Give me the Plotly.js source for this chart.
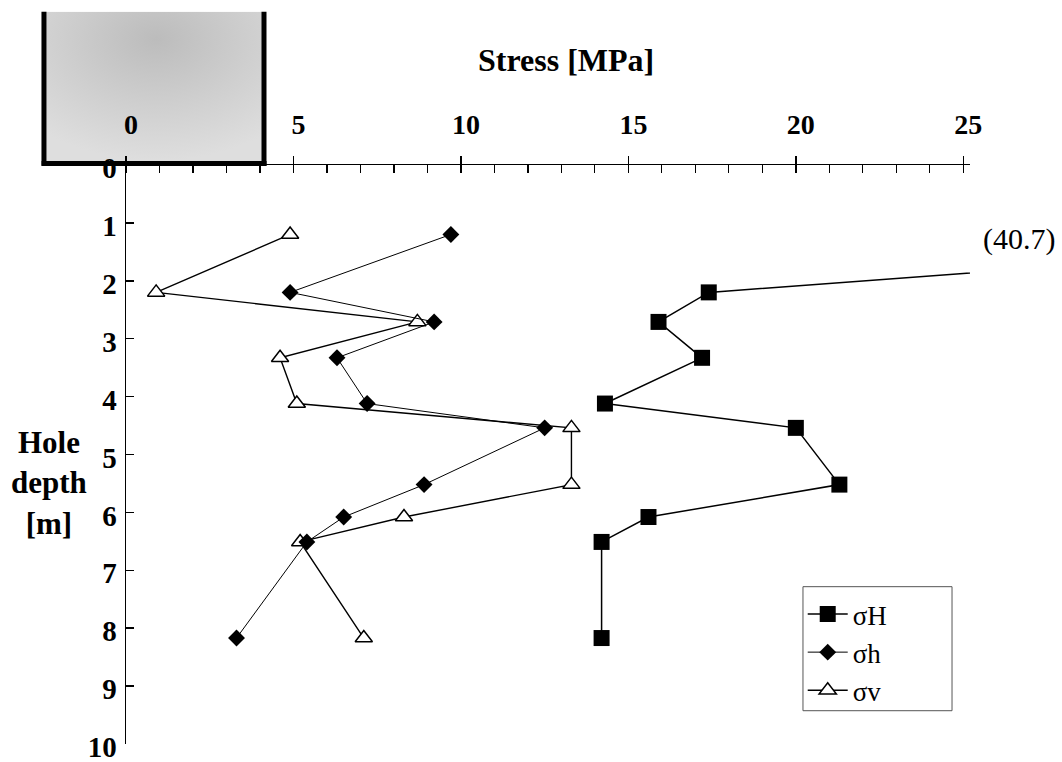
<!DOCTYPE html>
<html>
<head>
<meta charset="utf-8">
<script src="https://cdn.plot.ly/plotly-3.0.1.min.js"></script>
<style>html,body{margin:0;padding:0;background:#fff;}#chart{width:1062px;height:762px;}</style>
</head>
<body>
<div id="chart"></div>
<script>
// Hole depth [m] for each measurement
const depth = [1.2, 2.2, 2.71, 3.33, 4.12, 4.54, 5.52, 6.08, 6.51, 8.17];
// Stresses [MPa]
const sigmaH = [40.7, 17.4, 15.9, 17.2, 14.3, 20.0, 21.3, 15.6, 14.2, 14.2];
const sigmah = [9.7, 4.9, 9.2, 6.3, 7.2, 12.5, 8.9, 6.5, 5.4, 3.3];
const sigmav = [4.9, 0.9, 8.7, 4.6, 5.1, 13.3, 13.3, 8.3, 5.2, 7.1];
const seriesNames = ['σH', 'σh', 'σv'];
const xTicks = [0, 5, 10, 15, 20, 25];
const yTicks = [0, 1, 2, 3, 4, 5, 6, 7, 8, 9, 10];
const xTitle = 'Stress [MPa]';
const yTitle = 'Hole<br>depth<br>[m]';

const SERIF = '"Liberation Serif", "Times New Roman", serif';

const traces = [
  {
    x: sigmaH, y: depth, name: seriesNames[0], legendrank: 1,
    mode: 'lines+markers', type: 'scatter',
    line: {color: '#000', width: 1.5},
    marker: {symbol: 'square', size: 16, color: '#000'}
  },
  {
    x: sigmav, y: depth, name: seriesNames[2], legendrank: 3,
    mode: 'lines+markers', type: 'scatter',
    line: {color: '#000', width: 1.4},
    marker: {symbol: 'triangle-up', size: 15, color: '#fff', line: {color: '#000', width: 1.5}}
  },
  {
    x: sigmah, y: depth, name: seriesNames[1], legendrank: 2,
    mode: 'lines+markers', type: 'scatter',
    line: {color: '#000', width: 1},
    marker: {symbol: 'diamond', size: 13, color: '#000'}
  },
  {
    x: [], y: [], xaxis: 'x2', yaxis: 'y', showlegend: false, hoverinfo: 'skip', type: 'scatter'
  }
];

const svg = "<svg xmlns='http://www.w3.org/2000/svg' width='220' height='152'>" +
  "<defs><radialGradient id='g' cx='0.52' cy='0.18' r='0.8'>" +
  "<stop offset='0' stop-color='#bcbcbc'/><stop offset='0.55' stop-color='#cfcfcf'/><stop offset='1' stop-color='#dedede'/>" +
  "</radialGradient></defs><rect width='220' height='152' fill='url(#g)'/></svg>";
const imgSrc = 'data:image/svg+xml;charset=utf-8,' + encodeURIComponent(svg);

const layout = {
  width: 1062, height: 762,
  margin: {l: 126, r: 92, t: 165, b: 18},
  paper_bgcolor: '#fff', plot_bgcolor: '#fff',
  showlegend: true,
  xaxis: {
    side: 'top', range: [0, 25.2], tickvals: xTicks, ticktext: xTicks.map(String),
    showgrid: false, zeroline: false, showline: true, linecolor: '#000', linewidth: 1.5,
    ticks: 'outside', ticklen: 8, tickwidth: 1.5, tickcolor: '#000',
    minor: {dtick: 1, ticks: 'inside', ticklen: 8, tickwidth: 1.2, tickcolor: '#000', showgrid: false},
    tickfont: {family: SERIF, size: 28, color: '#000', weight: 'bold'},
    ticklabelstandoff: 10, ticklabelshift: 5
  },
  xaxis2: {
    overlaying: 'x', side: 'top', anchor: 'y', range: [0, 25.2], tickvals: xTicks,
    showticklabels: false, showgrid: false, zeroline: false, showline: false,
    ticks: 'inside', ticklen: 8, tickwidth: 1.5, tickcolor: '#000'
  },
  yaxis: {
    range: [10, 0], tickvals: yTicks, ticktext: yTicks.map(String),
    showgrid: false, zeroline: false, showline: true, linecolor: '#000', linewidth: 1.5,
    ticks: 'inside', ticklen: 8, tickwidth: 1.5, tickcolor: '#000',
    tickfont: {family: SERIF, size: 29, color: '#000', weight: 'bold'},
    ticklabelstandoff: 2, ticklabelshift: -3, ticklabeloverflow: 'allow'
  },
  legend: {
    x: 0.8018, y: 0.266, xanchor: 'left', yanchor: 'top',
    bgcolor: 'rgba(255,255,255,0)', borderwidth: 0,
    font: {family: SERIF, size: 27, color: '#000'},
    traceorder: 'normal', itemwidth: 40
  },
  images: [{
    source: imgSrc, xref: 'paper', yref: 'paper',
    x: -0.0995, y: 1.2648, sizex: 0.2606, sizey: 0.2626,
    xanchor: 'left', yanchor: 'top', sizing: 'stretch', layer: 'below'
  }],
  shapes: [
    {type: 'line', xref: 'paper', yref: 'paper', x0: -0.0972, x1: -0.0972, y0: 1.2648, y1: 0.9985, line: {color: '#000', width: 5}, layer: 'above'},
    {type: 'line', xref: 'paper', yref: 'paper', x0: 0.1635, x1: 0.1635, y0: 1.2648, y1: 0.9985, line: {color: '#000', width: 5}, layer: 'above'},
    {type: 'line', xref: 'paper', yref: 'paper', x0: -0.1, x1: 0.1665, y0: 1.0025, y1: 1.0025, line: {color: '#000', width: 5}, layer: 'above'},
    // legend frame
    {type: 'rect', xref: 'paper', yref: 'paper', x0: 0.8021, x1: 0.9787, y0: 0.0575, y1: 0.2717,
      line: {color: '#555', width: 1}, fillcolor: '#fff', layer: 'below'}
  ],
  annotations: [
    {
      text: xTitle, xref: 'paper', yref: 'paper', x: 0.5213, y: 1.182,
      xanchor: 'center', yanchor: 'middle', showarrow: false,
      font: {family: SERIF, size: 32, color: '#000', weight: 'bold'}
    },
    {
      text: yTitle, xref: 'paper', yref: 'paper', x: -0.0912, y: 0.451,
      xanchor: 'center', yanchor: 'middle', showarrow: false, align: 'center',
      font: {family: SERIF, size: 31, color: '#000', weight: 'bold'}
    },
    {
      text: '(' + sigmaH[0] + ')', xref: 'paper', yref: 'paper', x: 1.058, y: 0.8727,
      xanchor: 'center', yanchor: 'middle', showarrow: false,
      font: {family: SERIF, size: 30, color: '#000'}
    }
  ]
};

Plotly.newPlot('chart', traces, layout, {staticPlot: true, displayModeBar: false});
</script>
</body>
</html>
